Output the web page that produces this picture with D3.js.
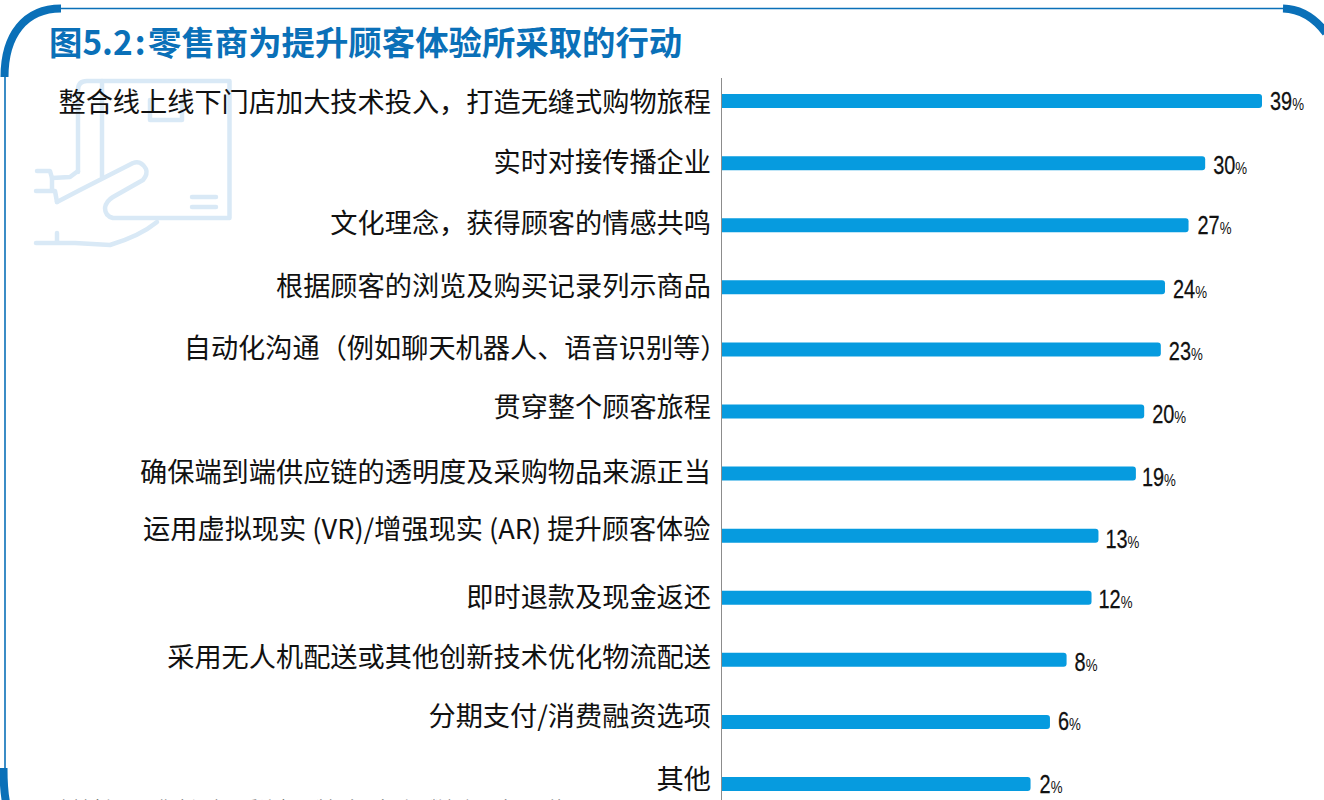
<!DOCTYPE html>
<html><head><meta charset="utf-8">
<script src="https://cdn.jsdelivr.net/npm/d3@7"></script>
<style>html,body{margin:0;padding:0;background:#fff;overflow:hidden}</style></head>
<body><svg id="c" width="1324" height="800"></svg>
<script>
const titleHead = "图5.2";
const titleColon = ":";
const titleTail = "零售商为提升顾客体验所采取的行动";
const categories = ["整合线上线下门店加大技术投入，打造无缝式购物旅程","实时对接传播企业","文化理念，获得顾客的情感共鸣","根据顾客的浏览及购买记录列示商品","自动化沟通（例如聊天机器人、语音识别等）","贯穿整个顾客旅程","确保端到端供应链的透明度及采购物品来源正当","运用虚拟现实 (VR)/增强现实 (AR) 提升顾客体验","即时退款及现金返还","采用无人机配送或其他创新技术优化物流配送","分期支付/消费融资选项","其他"];
const printedPercent = [39,30,27,24,23,20,19,13,12,8,6,2];
// bar lengths as drawn in the picture, on the scale of the top bar (not proportional to the printed labels)
const drawnValues = [39,34.9,33.7,32,31.7,30.5,29.9,27.2,26.7,24.9,23.7,22.3];
const labelNudge = [1,-1,-2,-1,-1,-4,-1,-6,0,-2,-5,-4];
const labelShiftX = [0,0,0,0,16.5,0,0,-0.5,0,0,0,0];
const valueNudge = [0,2,0,2,2,3,4,4,2,3,0,1];
const valueShiftX = [0,0,1,0,0,0,-2,-1,-1,0,0,1];
const footnote = "资料来源：零售商调查，受访者可选择多项行动，数据经四舍五入处理";

const svg = d3.select("#c");
const blue="#0a70b8", bar="#069bdf", pale="#d9e9f6";
const x = d3.scaleLinear().domain([0,39]).range([721.5,1262]);
const y = d3.scaleBand().domain(categories).range([70,815]).paddingInner(0).align(0.5);
const cy = c => y(c)+y.bandwidth()/2;

// frame
svg.append("line").attr("x1",60).attr("x2",1284).attr("y1",8.5).attr("y2",8.5).attr("stroke",blue).attr("stroke-width",1.6);
svg.append("line").attr("x1",5).attr("x2",5).attr("y1",70).attr("y2",770).attr("stroke",blue).attr("stroke-width",1.6);
const arc = p => svg.append("path").attr("d",p).attr("fill","none").attr("stroke",blue).attr("stroke-width",8);
arc("M4.5,77 C4.5,35 25,8.5 61,8.5");
arc("M1283,8.5 C1300,9 1314,17 1326,33");
arc("M3.5,768 C3.5,780 4,792 6,802");

// pale icon
const ic = svg.append("g").attr("fill","none").attr("stroke",pale).attr("stroke-width",4.5).attr("stroke-linecap","round").attr("stroke-linejoin","round");
ic.append("path").attr("d","M78,172 L78,90 Q78,81 87,81 L229.5,81 L229.5,218 L113,218 Q105,216 105,208 Q106,201 113,197 L143,180 Q148,174 146,169 Q141,160 133,163 L80,190 L57,202");
ic.append("path").attr("d","M102,177 L102,81");
ic.append("path").attr("d","M150,100 L150,120 L182,120 L182,100");
ic.append("path").attr("d","M37,171 L50,171 L52,178 L70,177 L78,171");
ic.append("path").attr("d","M52,178 L52,191 M36,191 L55,191 L57,202");
ic.append("path").attr("d","M157,222 Q140,236 110,245 L75,243 L36,243 M57,243 L57,233");
ic.append("path").attr("d","M192,197 L216,197 M192,207 L216,207");

// title
const t = svg.append("text").attr("x",49).attr("y",55).attr("font-family","'Noto Sans CJK SC'").attr("font-weight",700).attr("font-size",33.4).attr("fill",blue);
t.append("tspan").text(titleHead);
t.append("tspan").attr("dx",2).text(titleColon);
t.append("tspan").attr("dx",2.5).text(titleTail);

// axis
svg.append("line").attr("x1",721.5).attr("x2",721.5).attr("y1",78).attr("y2",800).attr("stroke","#8c8c8c").attr("stroke-width",1);

// bars
svg.selectAll("path.bar").data(categories).join("path").attr("class","bar").attr("fill",bar)
 .attr("d",(c,i)=>{const x0=x(0)+.5,x1=x(drawnValues[i]),h=14,t=cy(c)-h/2,r=3;return `M${x0},${t}H${x1-r}Q${x1},${t} ${x1},${t+r}V${t+h-r}Q${x1},${t+h} ${x1-r},${t+h}H${x0}Z`;});

// category labels
svg.selectAll("text.cat").data(categories).join("text").attr("class","cat")
 .attr("x",(c,i)=>711+labelShiftX[i]).attr("y",(c,i)=>cy(c)+labelNudge[i]+9.5).attr("text-anchor","end")
 .attr("font-family","'Noto Sans CJK SC'").attr("font-size",27.2).attr("fill","#111").text(c=>c);

// value labels (condensed)
const v = svg.selectAll("text.val").data(categories).join("text").attr("class","val")
 .attr("transform",(c,i)=>`translate(${x(drawnValues[i])+8+valueShiftX[i]},${cy(c)+valueNudge[i]+8.5}) scale(.83,1.06)`)
 .attr("font-family","'Liberation Sans'").attr("fill","#111").attr("font-size",24).attr("stroke","#111").attr("stroke-width",.25);
v.append("tspan").text((c,i)=>printedPercent[i]);
v.append("tspan").attr("font-size",16).attr("stroke","none").text("%");

// clipped footnote
svg.append("text").attr("x",55).attr("y",814).attr("font-family","'Noto Sans CJK SC'").attr("font-size",17).attr("fill","#777").text(footnote);
</script></body></html>
